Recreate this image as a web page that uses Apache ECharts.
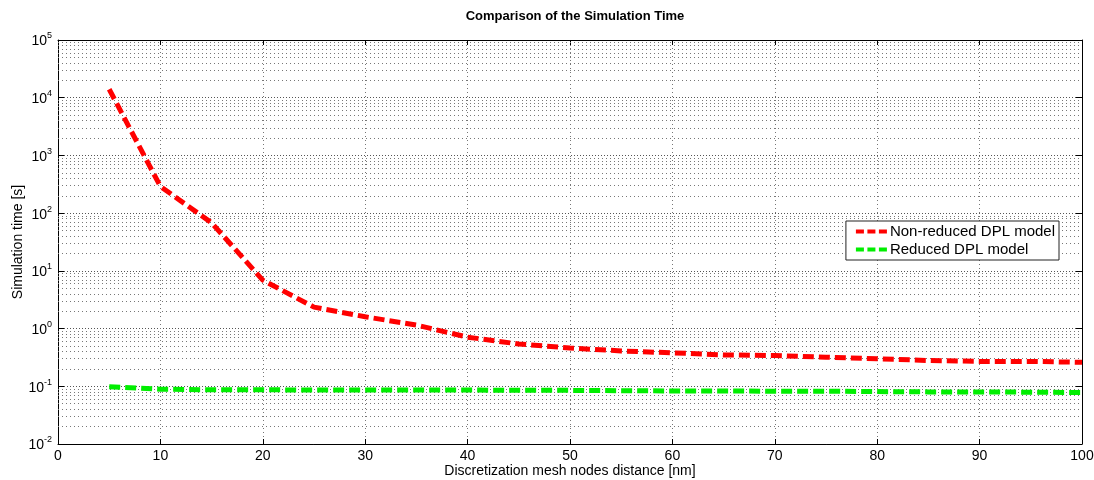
<!DOCTYPE html>
<html>
<head>
<meta charset="utf-8">
<script src="https://cdn.jsdelivr.net/npm/echarts@6/dist/echarts.min.js"></script>
<style>
  html, body { margin: 0; padding: 0; background: #fff; }
  #main { width: 1094px; height: 480px; }
</style>
</head>
<body>
<div id="main"></div>
<script>
// mesh node distance [nm]
var xValues = [5, 10, 15, 20, 25, 30, 35, 40, 45, 50, 55, 60, 65, 70, 75, 80, 85, 90, 95, 100];
// simulation time [s]
var nonReduced = [14000, 290, 68, 6.9, 2.35, 1.6, 1.15, 0.71, 0.54, 0.46, 0.41, 0.38, 0.35, 0.34, 0.32, 0.30, 0.28, 0.27, 0.27, 0.26];
var reduced = [0.098, 0.089, 0.087, 0.087, 0.086, 0.086, 0.086, 0.086, 0.085, 0.085, 0.084, 0.083, 0.083, 0.082, 0.082, 0.081, 0.080, 0.080, 0.079, 0.078];
var seriesNames = ["Non-reduced DPL model", "Reduced DPL model"];
// minor grid of the log axis: 2..9 in every decade
var decades = [-2, -1, 0, 1, 2, 3, 4];
var minorSteps = [2, 3, 4, 5, 6, 7, 8, 9];

function pairs(ys) {
  return xValues.map(function (x, i) { return [x, ys[i]]; });
}

var minorLines = [];
decades.forEach(function (d) {
  minorSteps.forEach(function (m) {
    minorLines.push({ yAxis: m * Math.pow(10, d) });
  });
});

var font = "Liberation Sans, Arial, sans-serif";
var gridDot = { type: [1, 3], color: "#777", width: 1 };
// three short dashes, like the matlab legend sample
var dashIcon = "path://M0,0h8v4h-8z M11.5,0h8v4h-8z M23,0h8v4h-8z";

var myChart = echarts.init(document.getElementById("main"));
myChart.setOption({
  animation: false,
  title: {
    text: "Comparison of the Simulation Time",
    left: 570,
    textAlign: "center",
    top: 5,
    textStyle: { fontFamily: font, fontSize: 13, fontWeight: "bold", color: "#000" }
  },
  // axis titles
  graphic: [
    {
      type: "text",
      x: 570,
      y: 471,
      style: {
        text: "Discretization mesh nodes distance [nm]",
        font: "14px " + font,
        fill: "#000",
        align: "center",
        verticalAlign: "middle"
      }
    },
    {
      type: "text",
      x: 18,
      y: 242,
      rotation: Math.PI / 2,
      style: {
        text: "Simulation time [s]",
        font: "14px " + font,
        fill: "#000",
        align: "center",
        verticalAlign: "middle"
      }
    }
  ],
  grid: { left: 58, right: 12, top: 40, bottom: 36, outerBoundsMode: "none" },
  legend: {
    orient: "vertical",
    right: 35,
    top: 221,
    data: seriesNames,
    icon: dashIcon,
    backgroundColor: "#fff",
    borderColor: "#222",
    borderWidth: 1,
    borderRadius: 0,
    padding: [3, 4, 3, 10],
    itemGap: 3,
    itemWidth: 31,
    itemHeight: 4,
    textStyle: { fontFamily: font, fontSize: 15, color: "#000", padding: [0, 0, 0, -2] }
  },
  xAxis: [
    {
      type: "value",
      min: 0,
      max: 100,
      interval: 10,
      axisLine: { show: true, onZero: false, lineStyle: { color: "#000", width: 1 } },
      axisTick: { show: true, inside: true, length: 5, lineStyle: { color: "#000" } },
      axisLabel: { fontFamily: font, fontSize: 14, color: "#000", margin: 5 },
      splitLine: { show: true, lineStyle: gridDot }
    },
    {
      type: "value",
      position: "top",
      min: 0,
      max: 100,
      interval: 10,
      axisLine: { show: true, onZero: false, lineStyle: { color: "#000", width: 1 } },
      axisTick: { show: true, inside: true, length: 5, lineStyle: { color: "#000" } },
      axisLabel: { show: false },
      splitLine: { show: false }
    }
  ],
  yAxis: [
    {
      type: "log",
      logBase: 10,
      min: 0.01,
      max: 100000,
      interval: 1,
      axisLine: { show: true, onZero: false, lineStyle: { color: "#000", width: 1 } },
      axisTick: { show: true, inside: true, length: 6, lineStyle: { color: "#000" } },
      axisLabel: {
        margin: 6,
        formatter: function (v) {
          var e = Math.round(Math.log10(v));
          return "{b|10}{s|" + e + "}";
        },
        rich: {
          b: { fontFamily: font, fontSize: 14, color: "#000", verticalAlign: "bottom" },
          s: { fontFamily: font, fontSize: 9, color: "#000", verticalAlign: "top", padding: [0, 0, 8, 0] }
        }
      },
      splitLine: { show: true, lineStyle: { type: [1, 2], color: "#555", width: 1 } }
    },
    {
      type: "log",
      logBase: 10,
      position: "right",
      min: 0.01,
      max: 100000,
      interval: 1,
      axisLine: { show: true, onZero: false, lineStyle: { color: "#000", width: 1 } },
      axisTick: { show: true, inside: true, length: 6, lineStyle: { color: "#000" } },
      axisLabel: { show: false },
      splitLine: { show: false }
    }
  ],
  series: [
    {
      name: seriesNames[0],
      type: "line",
      data: pairs(nonReduced),
      symbol: "none",
      z: 5,
      itemStyle: { color: "#ff0000" },
      lineStyle: { color: "#ff0000", width: 5, type: [11, 5] }
    },
    {
      name: seriesNames[1],
      type: "line",
      data: pairs(reduced),
      symbol: "none",
      z: 5,
      itemStyle: { color: "#00ee00" },
      lineStyle: { color: "#00ee00", width: 5, type: [11, 5] },
      markLine: {
        silent: true,
        symbol: ["none", "none"],
        label: { show: false },
        lineStyle: gridDot,
        z: 1,
        data: minorLines
      }
    }
  ]
});
</script>
</body>
</html>
